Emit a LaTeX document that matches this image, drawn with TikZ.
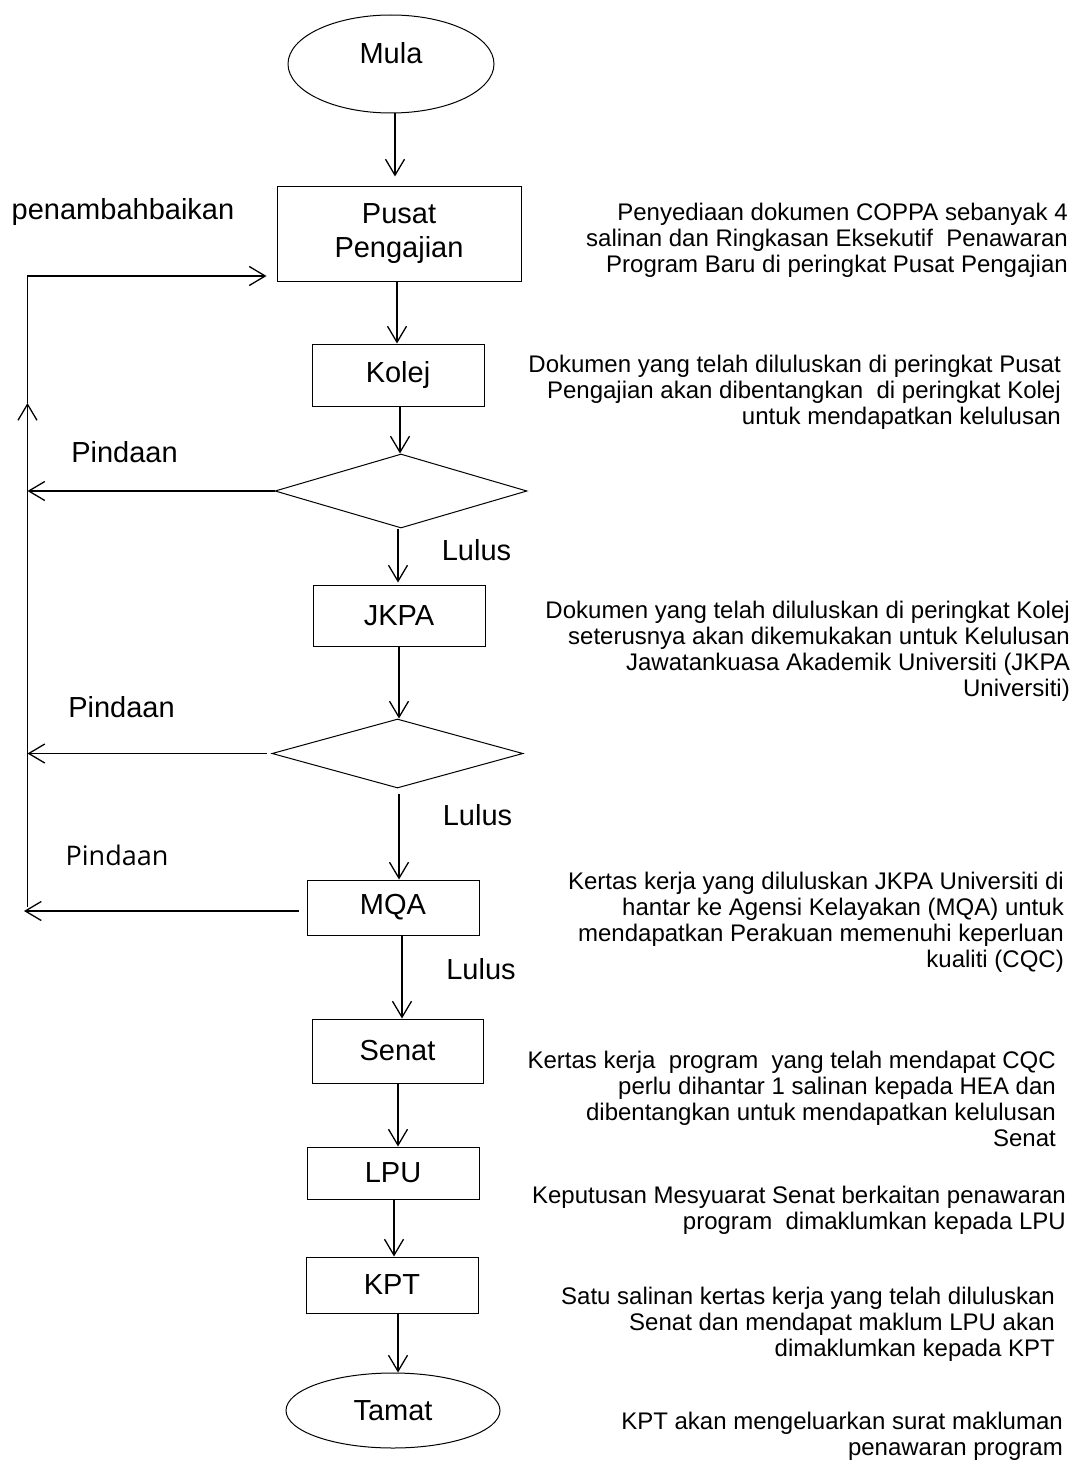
\documentclass[tikz,border=0pt]{standalone}
\usepackage{fontspec}
\setmainfont{Liberation Sans}
\newfontfamily\altfont{Open Sans}
\usetikzlibrary{shapes.geometric,arrows.meta,calc}
\begin{document}
\begin{tikzpicture}[x=1pt,y=-1pt,
  box/.style={draw,line width=1pt,rectangle,inner sep=0pt,font=\fontsize{29}{34}\selectfont},
  term/.style={draw,line width=1pt,ellipse,inner sep=0pt,font=\fontsize{29}{34}\selectfont},
  dec/.style={draw,line width=1pt,diamond,inner sep=0pt},
  arr/.style={line width=1.3pt,-{Straight Barb[length=16pt,width=19pt]}},
  lbl/.style={font=\fontsize{29}{34}\selectfont,inner sep=0pt},
  note/.style={font=\fontsize{24}{26}\selectfont,align=right,anchor=east,inner sep=0pt}]
\fill[white] (0,0) rectangle (1077,1466);
\useasboundingbox (0,0) rectangle (1077,1466);

% nodes
\node[term,minimum width=206pt,minimum height=98pt,text depth=22pt] (mula) at (391,64) {Mula};
\node[box,minimum width=244pt,minimum height=94pt,align=center] (pusat) at (399,234) {Pusat\\Pengajian};
\node[box,minimum width=172pt,minimum height=62pt] (kolej) at (398,375) {Kolej};
\node[dec,minimum width=252pt,minimum height=74pt] (d1) at (401,491) {};
\node[box,minimum width=172pt,minimum height=61pt] (jkpa) at (399,615.5) {JKPA};
\node[dec,minimum width=251pt,minimum height=69pt] (d2) at (397.5,753.5) {};
\node[box,minimum width=172pt,minimum height=55pt] (mqa) at (393,907.5) {MQA};
\node[box,minimum width=171pt,minimum height=64pt] (senat) at (397.5,1051) {Senat};
\node[box,minimum width=172pt,minimum height=52pt] (lpu) at (393,1173) {LPU};
\node[box,minimum width=172pt,minimum height=56pt] (kpt) at (392,1285) {KPT};
\node[term,minimum width=214pt,minimum height=75pt] (tamat) at (393,1410.5) {Tamat};

% main flow
\draw[arr,shorten >=10pt] ($(mula.south)+(4,0)$) -- ($(mula.south |- pusat.north)+(4,0)$);
\draw[arr] ($(pusat.south)+(-2,0)$) -- ($(pusat.south |- kolej.north)+(-2,0)$);
\draw[arr] ($(kolej.south)+(2,0)$) -- ($(kolej.south |- d1.north)+(2,0)$);
\draw[arr,shorten >=2pt] ($(d1.south)+(-3,0)$) -- ($(d1.south |- jkpa.north)+(-3,0)$);
\draw[arr] (jkpa.south) -- (jkpa.south |- d2.north);
\draw[arr,shorten <=5pt] ($(d2.south)+(1.5,0)$) -- ($(d2.south |- mqa.north)+(1.5,0)$);
\draw[arr] ($(mqa.south)+(9,0)$) -- ($(mqa.south |- senat.north)+(9,0)$);
\draw[arr] ($(senat.south)+(0.5,0)$) -- ($(senat.south |- lpu.north)+(0.5,0)$);
\draw[arr] ($(lpu.south)+(1,0)$) -- ($(lpu.south |- kpt.north)+(1,0)$);
\draw[arr] ($(kpt.south)+(6,0)$) -- ($(kpt.south |- tamat.north)+(6,0)$);

% feedback loop
\coordinate (lbot) at (27.5,907);
\coordinate (lmid) at (27.5,403);
\coordinate (ltop) at (27.5,276);
\coordinate (ltip) at (24,911);
\draw[arr] (lbot) -- (lmid);
\draw[arr,shorten >=10pt] (lmid) -- (ltop) -- (ltop -| pusat.west);
\draw[arr] (d1.west) -- (d1.west -| ltop);
\draw[arr,shorten <=5pt] (d2.west) -- (d2.west -| ltop);
\draw[arr,shorten <=8pt] (mqa.west |- ltip) -- (ltip);

% labels
\node[lbl] (lpenamb) at (123,212) {penambahbaikan};
\node[lbl] (lpind1) at (124.5,452) {Pindaan};
\node[lbl] (lpind2) at (121.5,707) {Pindaan};
\node[inner sep=0pt,font=\altfont\fontsize{27}{32}\selectfont] (lpind3) at (117,855) {Pindaan};
\node[lbl] (llulus1) at (476.5,550) {Lulus};
\node[lbl] (llulus2) at (477.5,815) {Lulus};
\node[lbl] (llulus3) at (481,969) {Lulus};

% notes
\node[note] (n1) at (1068,240) {Penyediaan dokumen COPPA sebanyak 4\\salinan dan Ringkasan Eksekutif~ Penawaran\\Program Baru di peringkat Pusat Pengajian};
\node[note] (n2) at (1061,392) {Dokumen yang telah diluluskan di peringkat Pusat\\Pengajian akan dibentangkan~ di peringkat Kolej\\untuk mendapatkan kelulusan};
\node[note] (n3) at (1070,651) {Dokumen yang telah diluluskan di peringkat Kolej\\seterusnya akan dikemukakan untuk Kelulusan\\Jawatankuasa Akademik Universiti (JKPA\\Universiti)};
\node[note] (n4) at (1064,922) {Kertas kerja yang diluluskan JKPA Universiti di\\hantar ke Agensi Kelayakan (MQA) untuk\\mendapatkan Perakuan memenuhi keperluan\\kualiti (CQC)};
\node[note] (n5) at (1056,1099) {Kertas kerja~ program~ yang telah mendapat CQC\\perlu dihantar 1 salinan kepada HEA dan\\dibentangkan untuk mendapatkan kelulusan\\Senat};
\node[note] (n6) at (1066,1210) {Keputusan Mesyuarat Senat berkaitan penawaran\\program~ dimaklumkan kepada LPU};
\node[note] (n7) at (1055,1324) {Satu salinan kertas kerja yang telah diluluskan\\Senat dan mendapat maklum LPU akan\\dimaklumkan kepada KPT};
\node[note] (n8) at (1063,1436) {KPT akan mengeluarkan surat makluman\\penawaran program};
\end{tikzpicture}
\end{document}
